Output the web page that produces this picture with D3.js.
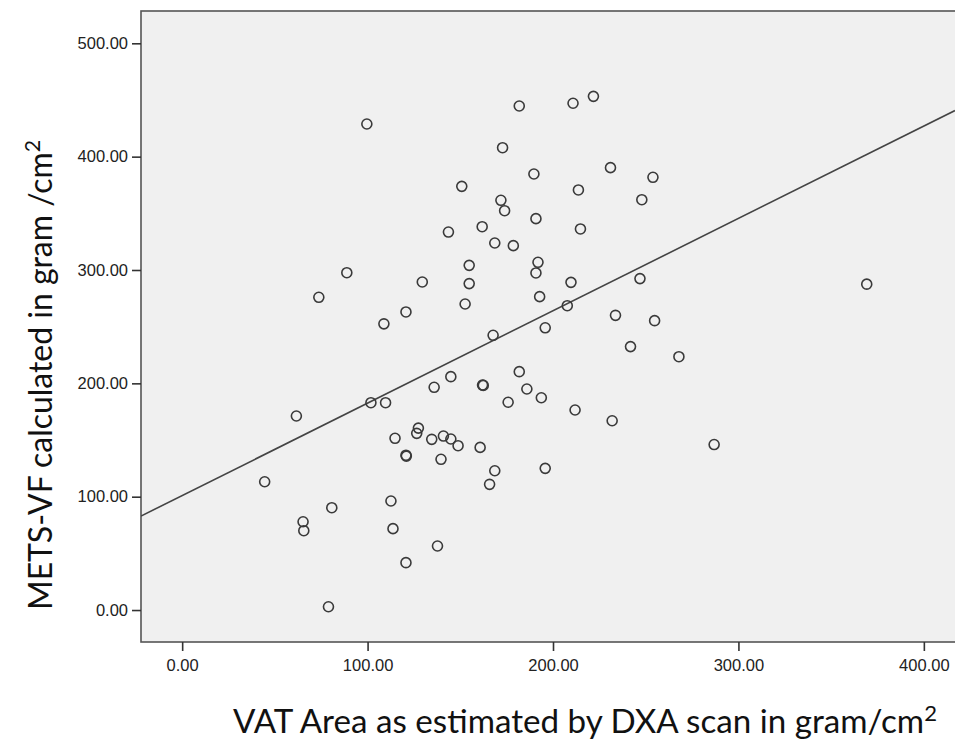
<!DOCTYPE html>
<html>
<head>
<meta charset="utf-8">
<script src="https://cdn.jsdelivr.net/npm/d3@7"></script>
<style>
  body { margin: 0; background: #fff; }
</style>
</head>
<body>
<div id="chart"></div>
<script>
// VAT area (x) vs METS-VF (y)
const vatArea = [99.6, 88.8, 73.7, 129.5, 120.7, 108.8, 181.8, 210.8, 221.8, 172.8,
  189.7, 231, 253.9, 150.8, 213.7, 247.9, 171.9, 173.9, 190.8, 214.8,
  161.8, 143.6, 168.6, 178.6, 154.8, 191.9, 190.8, 154.8, 209.7, 246.9,
  152.6, 192.8, 207.7, 233.7, 254.8, 195.8, 167.7, 369.2, 61.6, 44.5,
  101.8, 109.7, 127.4, 126.5, 114.8, 120.7, 120.9, 112.6, 80.7, 65.2,
  65.6, 113.7, 120.7, 78.9, 241.8, 267.9, 144.9, 135.9, 162, 162.4,
  181.8, 185.9, 175.8, 193.7, 211.9, 231.9, 134.6, 140.9, 144.9, 148.8,
  160.7, 139.6, 168.6, 165.8, 195.8, 137.7, 286.9];
const metsVF = [428.8, 297.6, 275.9, 289.4, 263, 252.5, 444.7, 447.1, 453.2, 407.9,
  384.7, 390.3, 381.8, 373.8, 370.6, 362, 361.5, 352.3, 345.3, 336.2,
  338.2, 333.5, 323.8, 321.5, 304.1, 306.8, 297.4, 288, 289.1, 292.4,
  270, 276.5, 268.5, 260, 255.3, 249, 242.4, 287.5, 171.2, 113.2,
  182.9, 182.9, 160.5, 155.9, 151.5, 136.6, 135.8, 96.2, 90.3, 77.9,
  70, 71.8, 41.8, 2.9, 232.4, 223.5, 205.9, 196.5, 198.5, 198.2,
  210.3, 195, 183.3, 187.3, 176.5, 167, 150.6, 153.5, 150.9, 145,
  143.5, 133, 122.9, 110.9, 125, 56.5, 146];

const xTicks = [0, 100, 200, 300, 400];
const yTicks = [0, 100, 200, 300, 400, 500];

// fit line
const fitIntercept = 101;
const fitSlope = 0.815;

const svgWidth = 955, svgHeight = 750;
const plotLeft = 141, plotRight = 955, plotTop = 11, plotBottom = 642;

const svg = d3.select("#chart").append("svg")
  .attr("width", svgWidth)
  .attr("height", svgHeight);

const x = d3.scaleLinear().domain([-22.2, 416.8]).range([plotLeft, plotRight]);
const y = d3.scaleLinear().domain([-28.2, 528.5]).range([plotBottom, plotTop]);

svg.append("rect")
  .attr("x", plotLeft).attr("y", plotTop)
  .attr("width", plotRight - plotLeft + 2).attr("height", plotBottom - plotTop)
  .attr("fill", "#f0f0f0")
  .attr("stroke", "#555")
  .attr("stroke-width", 1.6);

svg.append("clipPath").attr("id", "plotClip")
  .append("rect")
    .attr("x", plotLeft).attr("y", plotTop)
    .attr("width", plotRight - plotLeft).attr("height", plotBottom - plotTop);

let yAxis = svg.append("g")
  .attr("transform", `translate(${plotLeft},0)`)
  .call(d3.axisLeft(y).tickValues(yTicks).tickFormat(d3.format(".2f"))
    .tickSize(9).tickSizeOuter(0).tickPadding(4));
let xAxis = svg.append("g")
  .attr("transform", `translate(0,${plotBottom})`)
  .call(d3.axisBottom(x).tickValues(xTicks).tickFormat(d3.format(".2f"))
    .tickSize(9).tickSizeOuter(0).tickPadding(8));

[xAxis, yAxis].forEach(ax => {
  ax.select(".domain").remove();
  ax.selectAll(".tick line").attr("stroke", "#333").attr("stroke-width", 1.6);
  ax.selectAll(".tick text")
    .attr("fill", "#222")
    .style("font-family", "'Liberation Sans', Arial, sans-serif")
    .style("font-size", "16.5px");
});

// regression line
svg.append("line")
  .attr("clip-path", "url(#plotClip)")
  .attr("x1", x(-22.2)).attr("y1", y(fitIntercept + fitSlope * -22.2))
  .attr("x2", x(416.8)).attr("y2", y(fitIntercept + fitSlope * 416.8))
  .attr("stroke", "#444")
  .attr("stroke-width", 1.6);

svg.append("g")
  .selectAll("circle")
  .data(d3.zip(vatArea, metsVF))
  .enter()
  .append("circle")
    .attr("cx", d => x(d[0]))
    .attr("cy", d => y(d[1]))
    .attr("r", 5)
    .attr("fill", "none")
    .attr("stroke", "#3a3a3a")
    .attr("stroke-width", 1.6);

// axis titles
svg.append("text")
  .attr("x", 585).attr("y", 733)
  .attr("text-anchor", "middle")
  .attr("textLength", 704)
  .attr("lengthAdjust", "spacingAndGlyphs")
  .style("font-family", "Lato, 'Open Sans', sans-serif")
  .style("font-size", "33px")
  .attr("fill", "#111")
  .html("VAT Area as estimated by DXA scan in gram/cm<tspan dy='-12' font-size='22px'>2</tspan>");

svg.append("text")
  .attr("transform", "translate(52,375) rotate(-90)")
  .attr("text-anchor", "middle")
  .attr("textLength", 470)
  .attr("lengthAdjust", "spacingAndGlyphs")
  .style("font-family", "Lato, 'Open Sans', sans-serif")
  .style("font-size", "33px")
  .attr("fill", "#111")
  .html("METS-VF calculated in gram /cm<tspan dy='-12' font-size='22px'>2</tspan>");
</script>
</body>
</html>
